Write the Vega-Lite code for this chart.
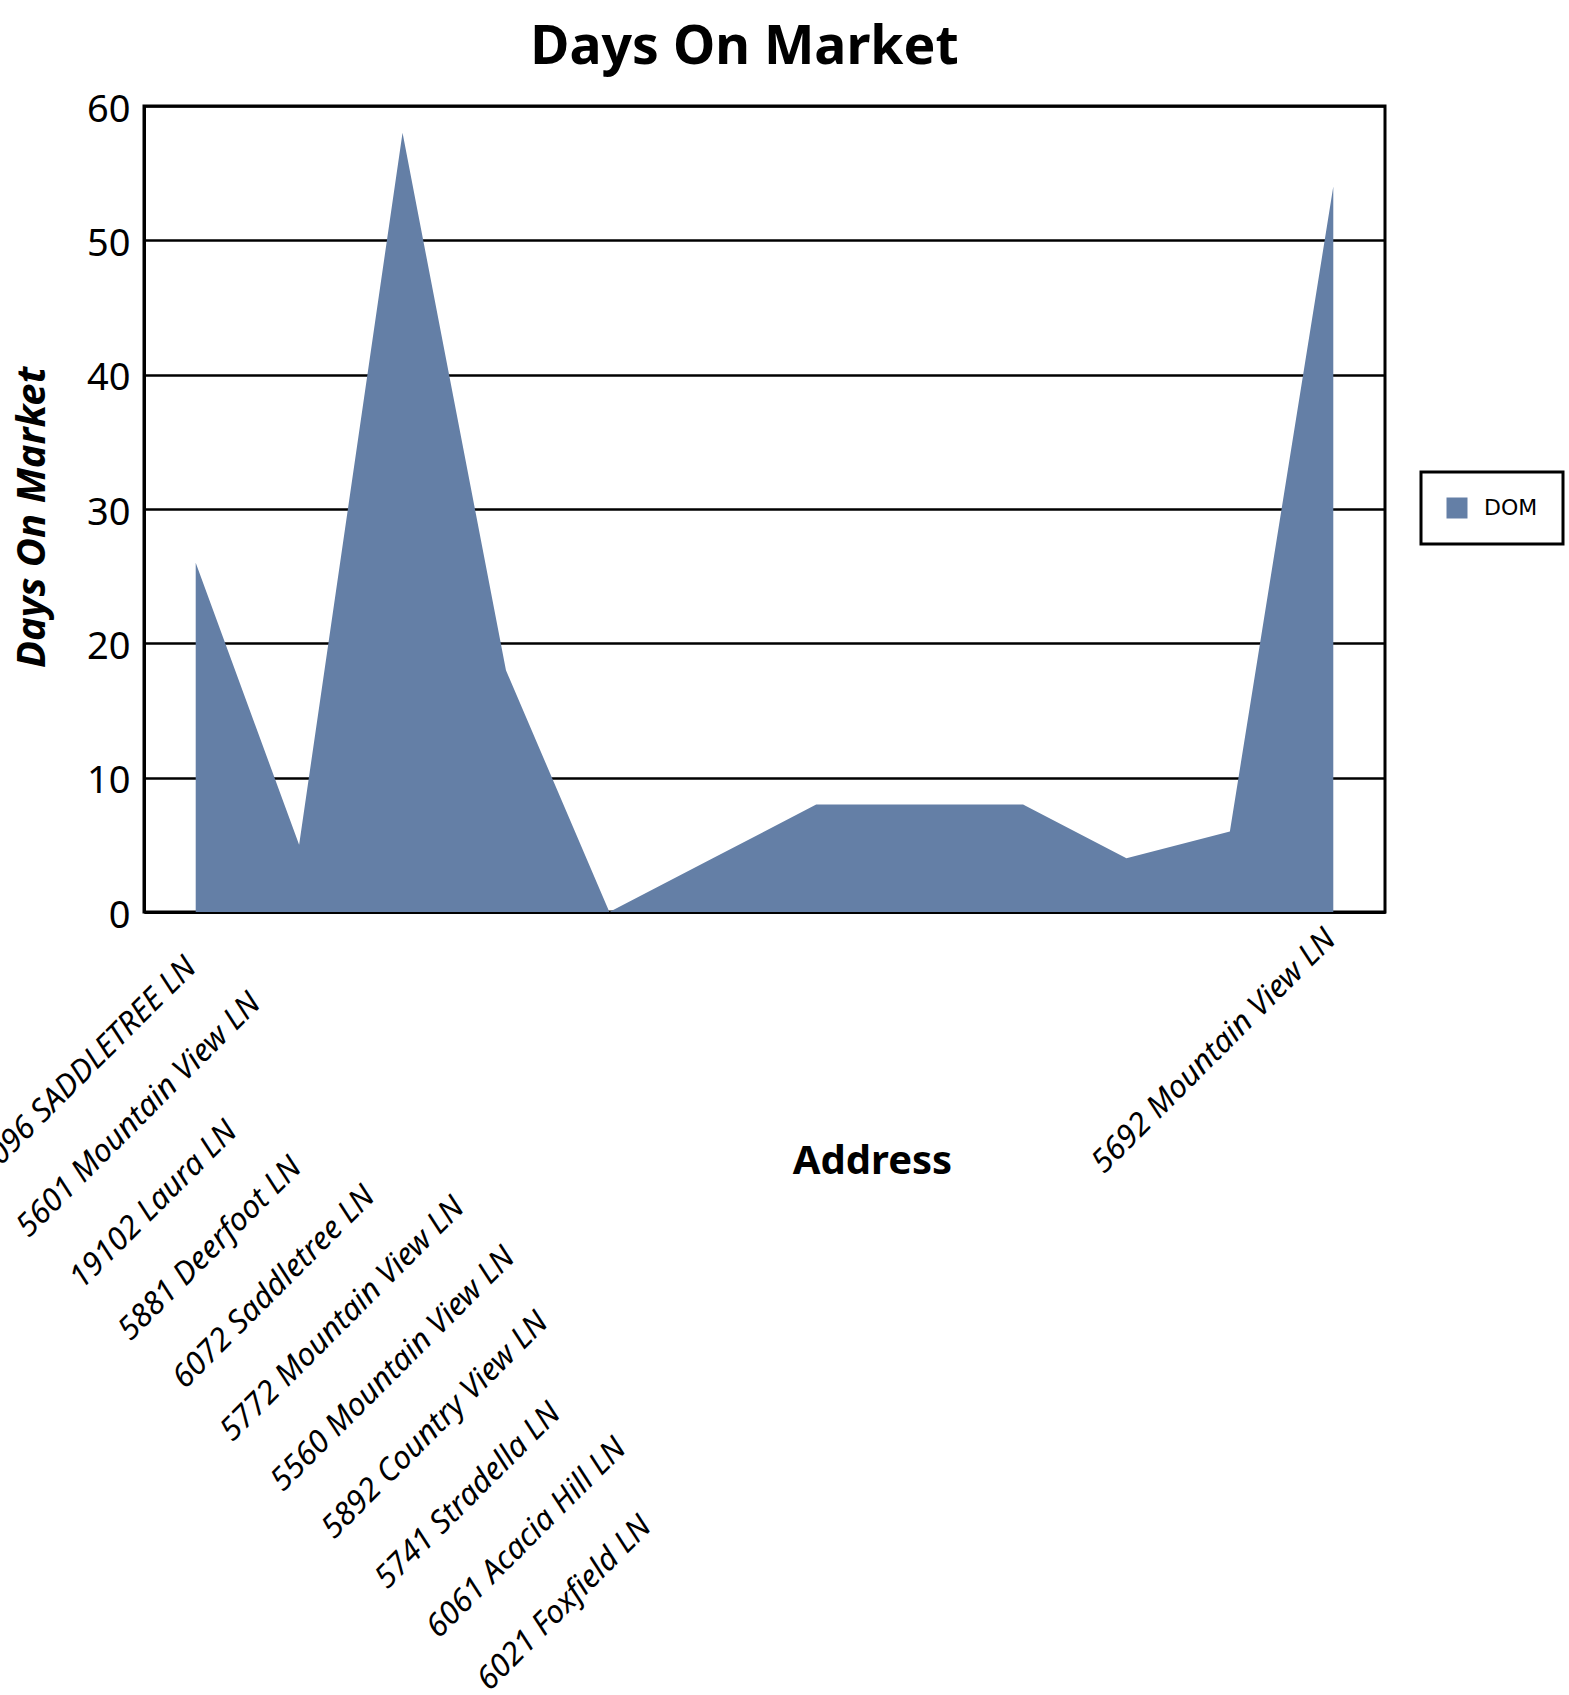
{
  "$schema": "https://vega.github.io/schema/vega-lite/v6.json",
  "autosize": {"type": "none"},
  "width": 1241,
  "height": 806,
  "padding": {"left": 144, "top": 106, "right": 184, "bottom": 783},
  "background": "white",
  "title": {
    "text": "Days On Market",
    "font": "Noto Sans",
    "fontSize": 53.5,
    "fontWeight": "bold",
    "color": "black",
    "anchor": "middle",
    "dx": -20,
    "dy": 70,
    "baseline": "alphabetic",
    "offset": 44
  },
  "data": {
    "values": [
      {"Address": "6096 SADDLETREE LN", "DOM": 26},
      {"Address": "5601 Mountain View LN", "DOM": 5},
      {"Address": "19102 Laura LN", "DOM": 58},
      {"Address": "5881 Deerfoot LN", "DOM": 18},
      {"Address": "6072 Saddletree LN", "DOM": 0},
      {"Address": "5772 Mountain View LN", "DOM": 4},
      {"Address": "5560 Mountain View LN", "DOM": 8},
      {"Address": "5892 Country View LN", "DOM": 8},
      {"Address": "5741 Stradella LN", "DOM": 8},
      {"Address": "6061 Acacia Hill LN", "DOM": 4},
      {"Address": "6021 Foxfield LN", "DOM": 6},
      {"Address": "5692 Mountain View LN", "DOM": 54}
    ]
  },
  "transform": [{"fold": ["DOM"], "as": ["series", "days"]}],
  "mark": {"type": "area", "interpolate": "linear", "opacity": 1},
  "encoding": {
    "x": {
      "field": "Address",
      "type": "nominal",
      "sort": null,
      "scale": {"type": "point", "padding": 0.5},
      "axis": {
        "title": "Address",
        "titleFont": "Noto Sans",
        "titleFontSize": 40,
        "titleFontWeight": "bold",
        "titleColor": "black",
        "titleX": 728,
        "titleY": 261,
        "titleAlign": "center",
        "titleBaseline": "alphabetic",
        "labelAngle": -45,
        "labelAlign": "right",
        "labelBaseline": "top",
        "labelFont": "Noto Sans",
        "labelFontStyle": "italic",
        "labelFontSize": 31.5,
        "labelColor": "black",
        "labelLimit": 1000,
        "labelOverlap": false,
        "ticks": false,
        "grid": false,
        "domainColor": "black",
        "domainWidth": 3,
        "labelOffset": {
          "condition": [
            {"test": "datum.value === '6096 SADDLETREE LN'", "value": -16},
            {"test": "datum.value === '5601 Mountain View LN'", "value": -55},
            {"test": "datum.value === '19102 Laura LN'", "value": -182},
            {"test": "datum.value === '5881 Deerfoot LN'", "value": -221},
            {"test": "datum.value === '6072 Saddletree LN'", "value": -251},
            {"test": "datum.value === '5772 Mountain View LN'", "value": -265},
            {"test": "datum.value === '5560 Mountain View LN'", "value": -318},
            {"test": "datum.value === '5892 Country View LN'", "value": -388},
            {"test": "datum.value === '5741 Stradella LN'", "value": -479},
            {"test": "datum.value === '6061 Acacia Hill LN'", "value": -517},
            {"test": "datum.value === '6021 Foxfield LN'", "value": -595}
          ],
          "value": -14
        },
        "labelPadding": {
          "condition": [
            {"test": "datum.value === '6096 SADDLETREE LN'", "value": 39},
            {"test": "datum.value === '5601 Mountain View LN'", "value": 75},
            {"test": "datum.value === '19102 Laura LN'", "value": 203},
            {"test": "datum.value === '5881 Deerfoot LN'", "value": 239},
            {"test": "datum.value === '6072 Saddletree LN'", "value": 268},
            {"test": "datum.value === '5772 Mountain View LN'", "value": 279},
            {"test": "datum.value === '5560 Mountain View LN'", "value": 329},
            {"test": "datum.value === '5892 Country View LN'", "value": 394},
            {"test": "datum.value === '5741 Stradella LN'", "value": 485},
            {"test": "datum.value === '6061 Acacia Hill LN'", "value": 520},
            {"test": "datum.value === '6021 Foxfield LN'", "value": 598}
          ],
          "value": 11
        }
      }
    },
    "y": {
      "field": "days",
      "type": "quantitative",
      "scale": {"domain": [0, 60], "nice": false},
      "axis": {
        "title": "Days On Market",
        "titleFont": "Noto Sans",
        "titleFontSize": 40,
        "titleFontWeight": "bold",
        "titleFontStyle": "italic",
        "titleColor": "black",
        "titleAngle": -90,
        "titleX": -112,
        "titleY": 411,
        "titleAlign": "center",
        "titleBaseline": "middle",
        "values": [0, 10, 20, 30, 40, 50, 60],
        "labelFont": "Noto Sans",
        "labelFontSize": 38,
        "labelColor": "black",
        "labelPadding": 14,
        "labelOffset": 4,
        "ticks": false,
        "grid": true,
        "gridColor": "black",
        "gridWidth": 2.5,
        "gridOpacity": 1,
        "domainColor": "black",
        "domainWidth": 3
      }
    },
    "color": {
      "field": "series",
      "type": "nominal",
      "scale": {"range": ["#647fa6"]},
      "legend": {
        "title": null,
        "orient": "none",
        "legendX": 1277,
        "legendY": 366,
        "strokeColor": "black",
        "fillColor": "white",
        "padding": 25,
        "symbolType": "square",
        "symbolSize": 441,
        "symbolStrokeWidth": 0,
        "symbolOpacity": 1,
        "labelFont": "DejaVu Sans",
        "labelFontSize": 22,
        "labelColor": "black",
        "labelOffset": 16
      }
    }
  },
  "config": {
    "view": {"stroke": "black", "strokeWidth": 3},
    "legend": {"strokeWidth": 3}
  }
}
